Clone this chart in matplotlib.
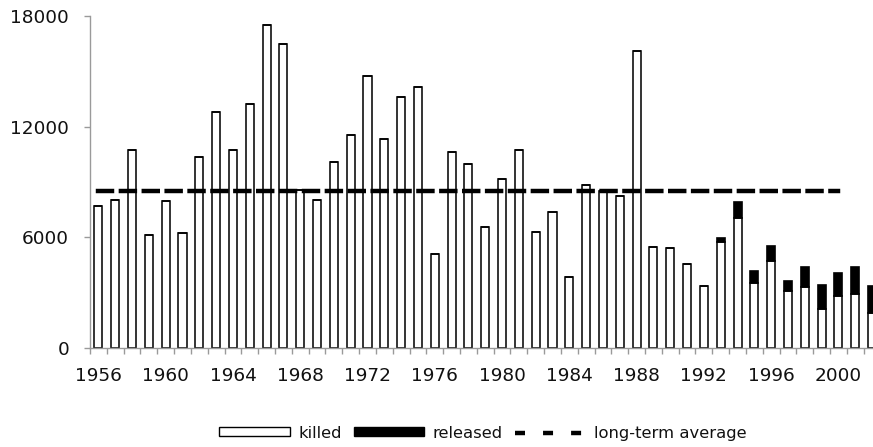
import matplotlib
matplotlib.use("Agg")
import matplotlib.pyplot as plt
import numpy as np
from matplotlib.patches import Patch
from matplotlib.lines import Line2D

plt.rcParams['font.family'] = ['DejaVu Sans']

# values
years = np.arange(1956, 2003)
killed = [7700, 8000, 10750, 6100, 7950, 6250, 10350, 12800, 10750, 13250,
          17500, 16500, 8550, 8050, 10100, 11550, 14750, 11350, 13600, 14150,
          5100, 10600, 9950, 6550, 9150, 10750, 6300, 7400, 3850, 8850,
          8500, 8250, 16100, 5500, 5400, 4550, 3350, 5720, 7070, 3520,
          4730, 3100, 3290, 2130, 2800, 2940, 1900]
released = [0] * 37 + [270, 870, 630, 780, 550, 1100, 1300, 1260, 1450, 1440]
long_term_avg = 8500
avg_years = years[years <= 2000]
label_years = years[::4]
y_ticks = [0, 6000, 12000, 18000]

gray = '#9a9a9a'

fig = plt.figure(figsize=(8.73, 4.47), dpi=100)
ax = fig.add_axes([0.1031, 0.2215, 0.9055, 0.7427])

ax.bar(years, killed, width=0.48, color='white', edgecolor='#111111',
       linewidth=1.2, zorder=2)
ax.bar(years, released, width=0.48, bottom=killed, color='black',
       edgecolor='black', linewidth=1.2, zorder=2)
ax.plot(avg_years, [long_term_avg] * len(avg_years), color='black', lw=3.2,
        ls=(0, (3.15, 2.0)), dash_capstyle='projecting', zorder=3)

ax.set_xlim(years[0] - 0.5, years[-1] + 0.5)
ax.set_ylim(0, 18000)

for s in ['top', 'right']:
    ax.spines[s].set_visible(False)
for s in ['left', 'bottom']:
    ax.spines[s].set_color(gray)
    ax.spines[s].set_linewidth(1.0)

ax.set_xticks(label_years)
ax.set_xticklabels([str(y) for y in label_years])
ax.set_xticks(np.append(years - 0.5, years[-1] + 0.5), minor=True)
ax.tick_params(axis='x', which='major', length=0, pad=14, labelsize=13.3,
               labelcolor='#111111')
ax.tick_params(axis='x', which='minor', length=4, color=gray, width=1.0)

ax.set_yticks(y_ticks)
ax.set_yticklabels([str(v) for v in y_ticks])
ax.tick_params(axis='y', length=4, color=gray, width=1.0, pad=11,
               labelsize=13.3, labelcolor='#111111')

handles = [
    Patch(facecolor='white', edgecolor='black', linewidth=1.0),
    Patch(facecolor='black', edgecolor='black', linewidth=1.0),
    Line2D([], [], color='black', lw=3.2, ls=(0, (2.25, 4.06)),
           dash_capstyle='butt'),
]
fig.legend(handles, ['killed', 'released', 'long-term average'],
           loc='center', bbox_to_anchor=(0.553, 0.031), ncol=3,
           frameon=False, fontsize=11.8, handlelength=4.3, handleheight=0.43,
           handletextpad=0.5, columnspacing=0.75, borderpad=0,
           labelcolor='#111111')

fig.savefig('out.png', dpi=100)
